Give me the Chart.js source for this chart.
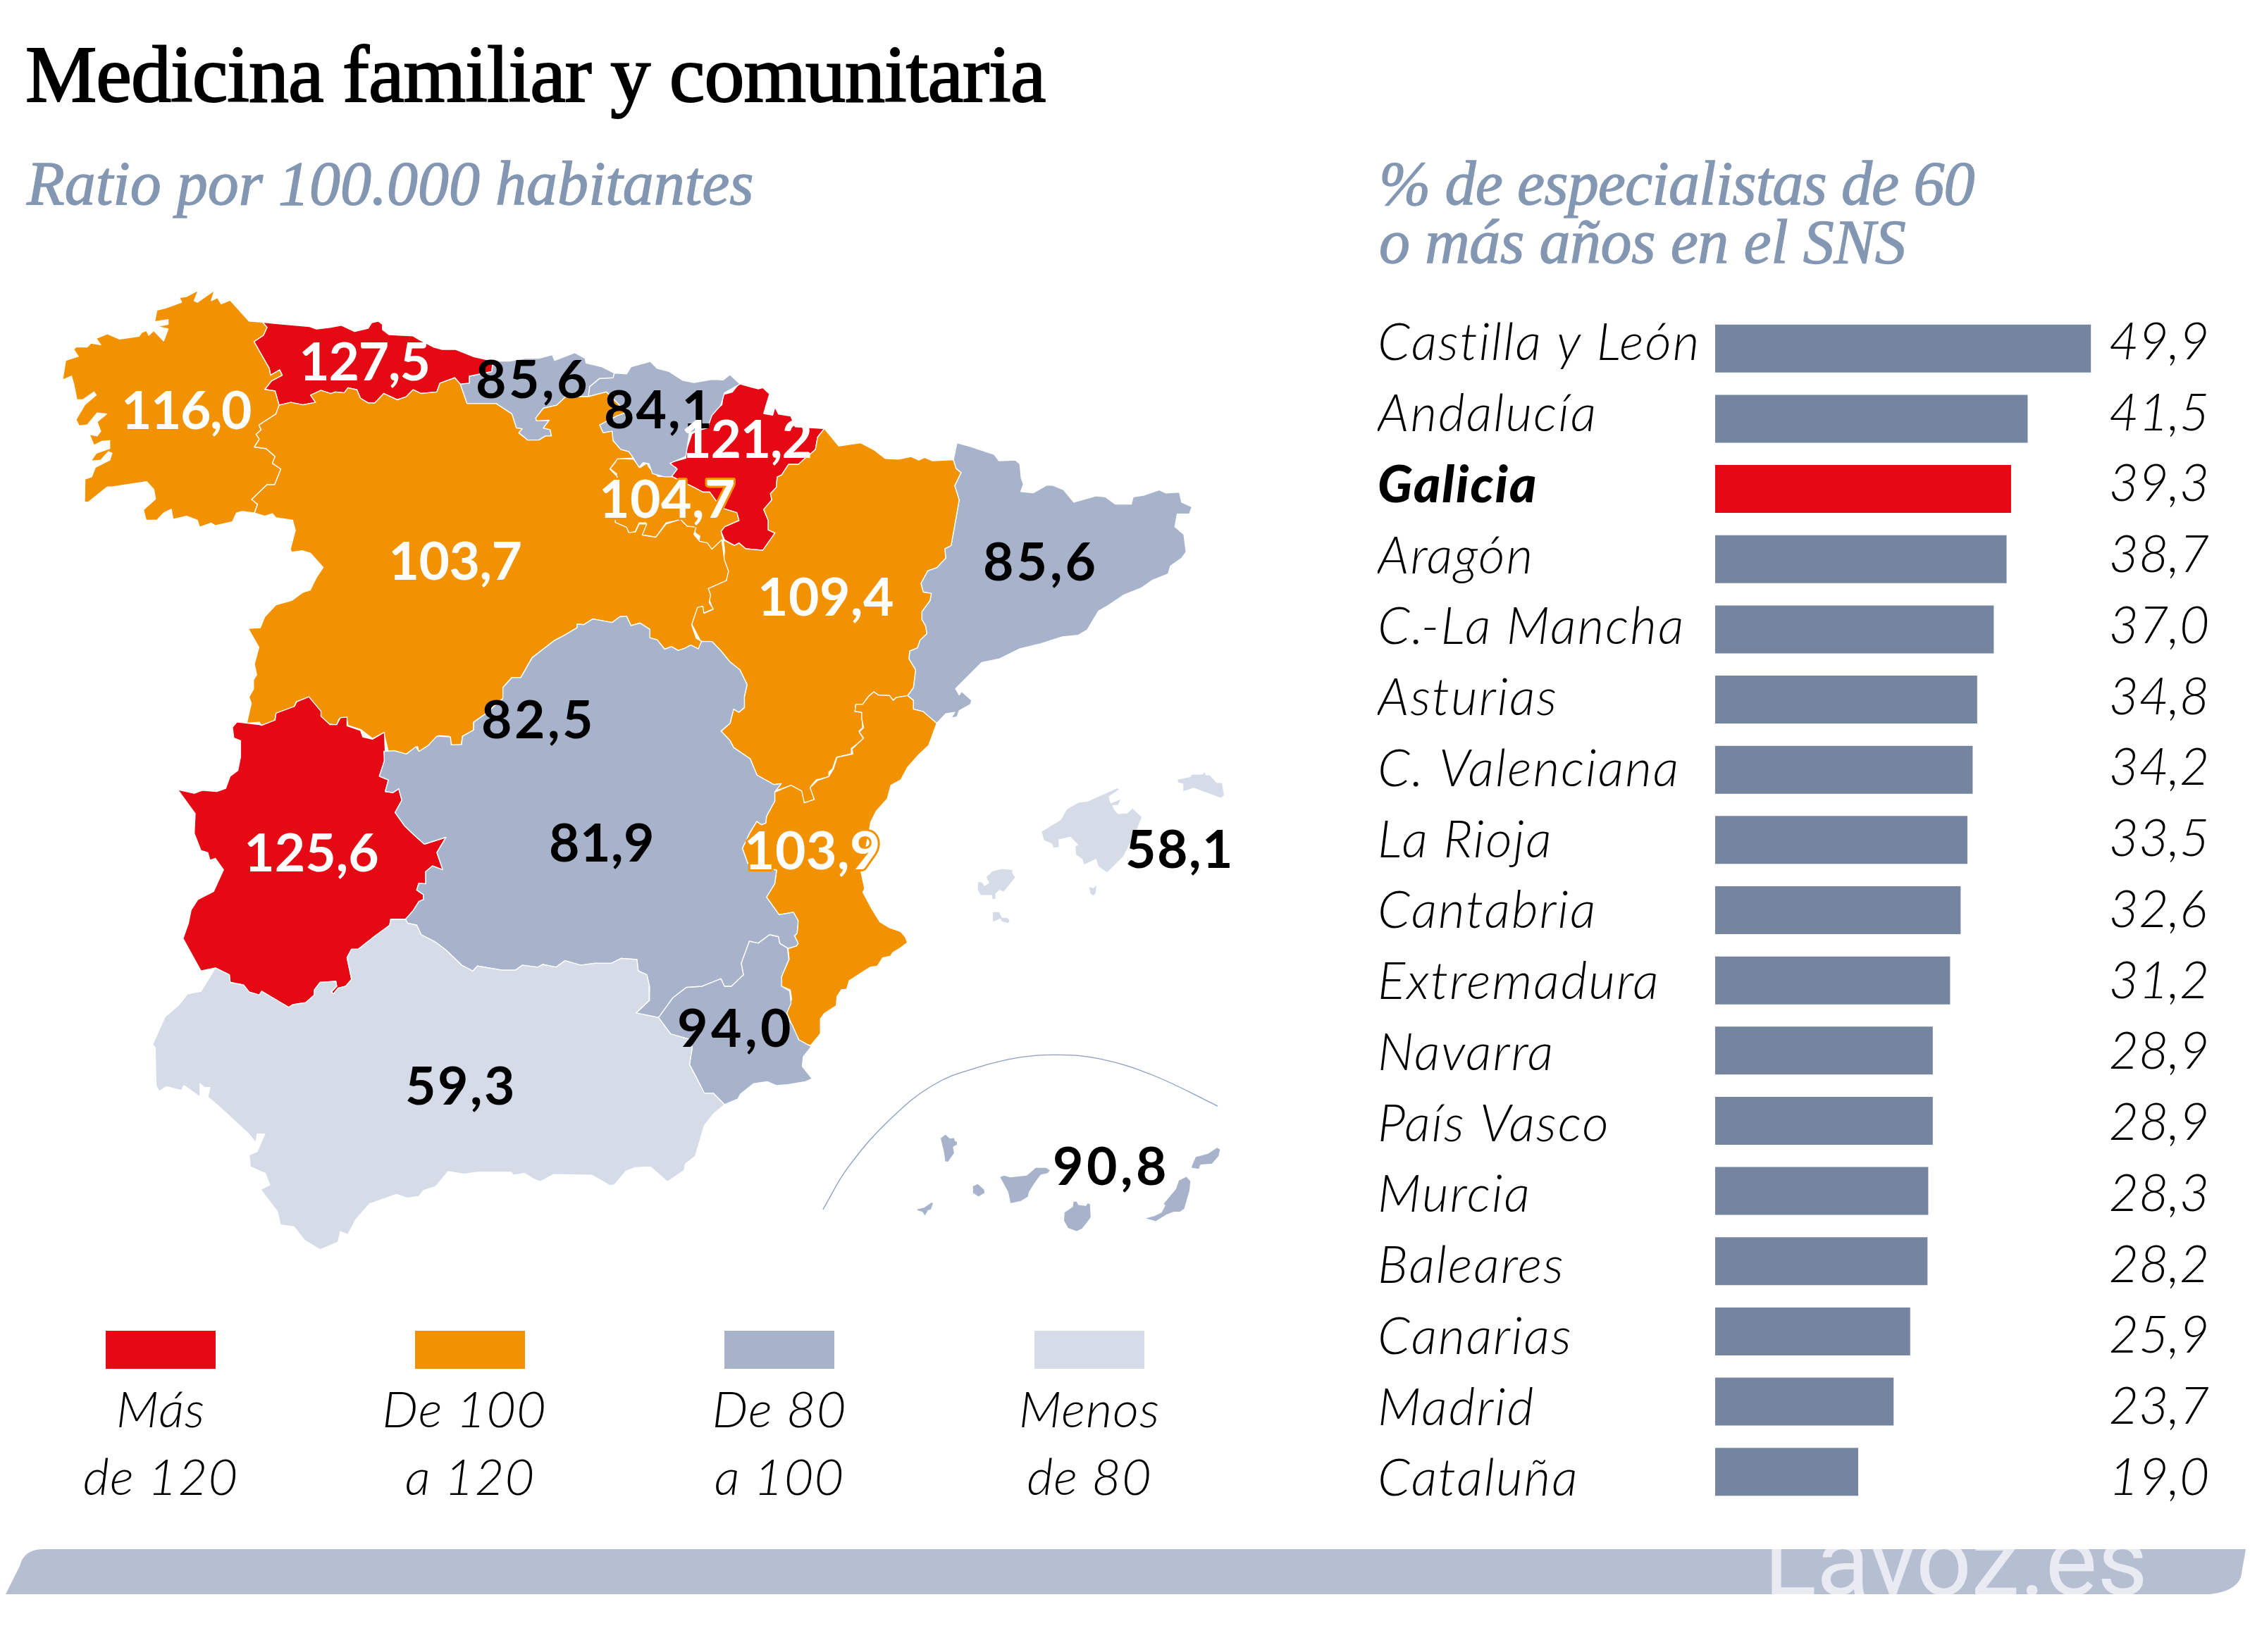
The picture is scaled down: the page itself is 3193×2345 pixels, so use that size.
<!DOCTYPE html>
<html lang="es">
<head>
<meta charset="utf-8">
<title>Medicina familiar y comunitaria</title>
<script src="https://cdn.jsdelivr.net/npm/chart.js@4/dist/chart.umd.min.js"></script>
<style>
html,body{margin:0;padding:0;background:#fff}
#page{position:relative;width:3193px;height:2345px;overflow:hidden;background:#fff}
canvas{position:absolute;display:block}
.t{position:absolute;white-space:nowrap;margin:0;line-height:1}
#title{left:36px;top:40px;font:400 114px "Liberation Serif",serif;color:#000;letter-spacing:-1px;-webkit-text-stroke:2px #000}
.sub{font:italic 400 88px "Liberation Serif",serif;color:#8497b2;-webkit-text-stroke:1.3px #8497b2}
.swatch{position:absolute;width:156px;height:54px;top:1889px}
.leg{font:italic 300 72px "Lato",sans-serif;color:#000;letter-spacing:1px;transform:translateX(-50%)}
#band{position:absolute;left:0;top:2199px;width:3193px;height:64px;background:#b6bfd2;overflow:hidden;
 clip-path:path('M8 64 L28 24 Q34 0 61 0 L3187 0 L3180 40 Q3172 60 3136 64 Z')}
#brand{position:absolute;left:2503px;top:-52px;font:400 139px/1 "Roboto",sans-serif;color:#e8ebf2;white-space:nowrap}
</style>
</head>
<body>
<div id="page">
 <canvas id="map" width="1950" height="2345" style="left:0;top:0;width:1950px;height:2345px"></canvas>
 <canvas id="bars" width="1227" height="1694" style="left:1955px;top:445px;width:1227px;height:1694px"></canvas>
 <h1 class="t" id="title">Medicina familiar y comunitaria</h1>
 <div class="t sub" style="left:38px;top:210px">Ratio por 100.000 habitantes</div>
 <div class="t sub" style="left:1957px;top:210px;letter-spacing:-.85px">% de especialistas de 60</div>
 <div class="t sub" style="left:1957px;top:293px;letter-spacing:-.4px">o más años en el SNS</div>
 <div id="legend"></div>
 <div id="band"><div id="brand">Lavoz.es</div></div>
</div>
<script>
// ---------- bar chart data ----------
const barCategories = ["Castilla y León","Andalucía","Galicia","Aragón","C.-La Mancha","Asturias","C. Valenciana","La Rioja","Cantabria","Extremadura","Navarra","País Vasco","Murcia","Baleares","Canarias","Madrid","Cataluña"];
const barValues = [49.9,41.5,39.3,38.7,37.0,34.8,34.2,33.5,32.6,31.2,28.9,28.9,28.3,28.2,25.9,23.7,19.0];
const highlightCategory = "Galicia";

// ---------- map label data ----------
const regionNames = ["Galicia","Asturias","Cantabria","País Vasco","Navarra","La Rioja","Castilla y León","Aragón","Cataluña","Madrid","C.-La Mancha","Extremadura","C. Valenciana","Baleares","Murcia","Andalucía","Canarias"];
const regionRatios = [116.0,127.5,85.6,84.1,121.2,104.7,103.7,109.4,85.6,82.5,81.9,125.6,103.9,58.1,94.0,59.3,90.8];
const regionLabelX = [264,517,756,935,1059,947,646,1172,1477,764,854,442,1153,1674,1044,654,1577];
const regionLabelY = [609,540,565,608,650,735,823,874,824,1048,1223,1237,1234,1232,1486,1568,1682];
const regionLabelTracking = [-1.5,-1.2,3.5,2,-1.2,.5,-.5,.5,4,3.5,.5,0,.5,1.5,4.5,2.5,4.5];

// ---------- legend ----------
const legendLimits = [[120,Infinity],[100,120],[80,100],[0,80]];
const legendColors = ["#e50914","#f39200","#a6b3ca","#d5dce8"];
const legendLine1 = ["Más","De 100","De 80","Menos"];
const legendLine2 = ["de 120","a 120","a 100","de 80"];

const A=[60,380,1/1.568,700/1568], B=[180,950,1/1.568,850/1568], C=[1000,1020,800/1568,750/1568], D=[800,520,1/1.568,700/1568];
function path(...parts){const out=[];for(let p=0;p<parts.length;p+=2){const v=parts[p],f=parts[p+1];for(let i=0;i<f.length;i+=2)out.push({x:v[0]+f[i]*v[2],y:v[1]+f[i+1]*v[3]});}return out;}

const galicia=path(A,[347,72,338,105,345,110,383,72,376,105,390,95,398,115,418,103,460,170,490,173,500,190,492,215,471,235,505,320,508,342,528,325,534,342,510,360,495,387,518,392,527,437,520,465,482,500,487,515,476,530,483,545,472,570,498,575,518,600,512,622,531,640,517,690,500,690,466,737,479,752,472,780,445,775,432,780,423,808,385,820,376,812,350,825,345,803,321,790,291,800,287,768,270,780,255,803,231,803,225,770,252,735,248,705,232,680,155,697,145,697,103,745,94,745,95,672,110,665,118,635,150,612,155,590,147,585,130,612,108,615,120,590,150,575,150,550,133,552,115,565,105,530,122,535,130,520,122,490,143,465,122,462,100,500,82,503,75,483,95,435,120,405,115,395,90,420,77,420,70,370,65,345,45,357,52,295,80,282,70,260,75,252,100,252,108,240,130,245,120,225,145,210,172,227,215,218,222,205,232,200,237,215,248,200,270,233,280,195,255,187,280,180,280,165,250,172,255,135,275,128,310,110,305,95,320,92,347,72]);
const asturias=path(A,[516,177,595,187,610,195,640,190,665,183,695,203,725,193,733,175,748,170,757,180,757,197,772,213,825,217,840,230,870,252,890,260,920,260,960,283,1003,297,1000,330,950,345,950,367,930,370,918,350,885,367,878,395,843,400,825,388,810,410,790,420,760,400,740,430,725,430,708,415,700,388,680,382,672,398,652,395,642,400,620,390,597,405,608,428,580,436,553,428,527,437,518,392,495,387,510,360,534,342,528,325,508,342,505,320,471,235,492,215,500,190,490,173,516,177]);
const cantabria=path(A,[1003,297,1040,297,1075,288,1105,288,1135,277,1140,295,1185,270,1208,288,1210,303,1245,315,1273,335,1270,350,1240,352,1218,378,1215,410,1165,410,1145,437,1115,447,1098,478,1100,487,1128,485,1115,510,1130,515,1133,535,1120,535,1105,548,1080,548,1060,525,1068,512,1055,510,1045,465,1010,432,945,432,930,370,950,367,950,345,1000,330,1003,297]);
const paisVasco=path(A,[1273,335,1300,338,1310,315,1353,298,1368,320,1395,330,1425,358,1450,365,1490,355,1515,357,1530,340,1553,370,1518,398,1510,437,1490,470,1480,510,1440,525,1432,600,1397,622,1413,640,1400,665,1385,665,1358,655,1350,623,1337,620,1328,635,1315,605,1305,585,1287,578,1270,550,1268,520,1248,525,1240,500,1280,470,1300,460,1255,395,1215,410,1218,378,1240,352,1270,350,1273,335]);
const navarra=path(D,[390,55,415,65,433,72,443,68,458,88,450,125,445,150,465,155,470,130,478,152,505,158,515,192,580,198,565,225,560,265,535,295,522,312,500,312,485,345,475,352,473,385,460,405,463,425,445,455,455,490,455,520,470,530,443,585,405,580,390,562,380,570,358,552,350,525,358,510,390,490,385,465,350,450,325,400,310,400,290,385,240,350,250,322,235,313,240,305,272,292,272,270,285,215,318,185,330,150,352,122,355,90,375,82,390,55]);
const rioja=path(D,[155,295,118,293,115,305,103,325,118,342,115,355,118,370,115,430,112,490,120,505,138,512,145,530,158,528,168,498,183,498,172,535,205,543,228,497,255,490,272,510,290,510,293,530,303,540,300,558,312,560,330,583,355,552,350,525,358,510,390,490,385,465,350,450,325,400,310,400,290,385,240,350,210,350,190,322,185,308,170,322,155,295]);
const castillaLeon=path(A,[527,437,553,428,580,436,608,428,597,405,620,390,642,400,652,395,672,398,680,382,700,388,708,415,725,430,740,430,760,400,790,420,810,410,825,388,843,400,878,395,885,367,918,350,930,370,945,432,1010,432,1045,465,1055,510,1068,512,1060,525,1080,548,1105,548,1120,535,1133,535,1130,515,1115,510,1128,485,1100,487,1098,478,1115,447,1145,437,1165,410,1215,410,1255,395,1300,460,1280,470,1240,500,1248,525,1268,520,1270,550,1287,578,1305,585,1315,605,1280,608,1263,640,1280,665,1270,680,1275,690,1275,810,1300,825,1305,842,1320,840,1328,815,1345,815,1335,850,1365,857,1388,815,1420,800,1435,822,1455,825,1450,848,1463,870,1480,875,1490,895,1512,865,1518,930,1527,965,1522,995,1482,1020,1487,1040,1484,1065,1493,1085,1472,1098,1470,1077,1458,1080,1445,1135,1455,1178,1467,1188,1460,1212,1443,1200,1430,1210,1415,1217,1400,1205,1385,1213,1368,1183,1352,1177,1352,1150,1330,1130,1310,1138,1300,1108,1285,1110,1268,1128,1225,1117,1205,1135,1190,1133,1190,1145,1160,1170,1140,1185,1090,1240,1065,1303,1045,1303,1025,1335,1025,1370,985,1420,960,1445,960,1470,935,1490,932,1518,912,1520,905,1490,882,1488,860,1520,838,1540,835,1522,808,1548,770,1538,760,1478,735,1497,708,1468,680,1455,677,1430,660,1435,655,1455,637,1450,617,1425,617,1410,593,1365,565,1380,560,1398,520,1420,517,1440,487,1455,483,1445,455,1448,465,1385,460,1365,470,1340,470,1310,477,1295,472,1260,482,1207,458,1147,485,1145,495,1110,520,1072,555,1058,580,1032,596,1025,610,985,625,953,597,908,578,900,555,905,552,895,563,835,557,803,520,795,512,782,495,790,472,780,479,752,466,737,500,690,517,690,531,640,512,622,518,600,498,575,472,570,483,545,476,530,487,515,482,500,520,465,527,437]);
const aragon=path(D,[580,198,612,253,660,243,690,265,715,293,745,295,773,287,790,298,803,290,820,300,867,297,873,325,884,338,870,380,880,425,862,570,848,580,850,610,830,640,810,650,795,690,800,718,818,722,815,745,797,780,797,805,805,825,808,850,793,870,787,895,770,905,768,930,783,965,778,1022,765,1047,740,1053,733,1062,725,1047,700,1045,690,1035,678,1050,665,1075,650,1075,648,1097,663,1100,665,1150,657,1160,667,1185,640,1215,640,1232,607,1243,598,1280,590,1290,590,1305,562,1315,550,1335,557,1378,535,1388,527,1350,505,1333,470,1350,484,1327,468,1330,430,1300,415,1248,378,1212,370,1190,350,1160,370,1135,378,1090,390,1100,402,1085,402,1050,408,1012,392,965,370,940,350,905,330,875,305,875,285,820,297,765,310,763,313,785,332,773,322,735,320,705,362,680,365,650,355,630,358,585,355,552,380,570,390,562,405,580,443,585,470,530,455,520,455,490,445,455,463,425,460,405,473,385,475,352,485,345,500,312,522,312,535,295,560,265,565,225,580,198]);
const cataluna=path(D,[875,243,905,255,958,280,968,300,1005,298,1015,310,1018,355,1023,375,1017,398,1045,402,1075,378,1088,378,1112,392,1135,432,1185,412,1205,415,1227,438,1263,438,1267,415,1290,410,1325,393,1340,403,1370,400,1375,432,1398,447,1392,470,1365,470,1360,510,1380,535,1385,590,1375,610,1350,635,1345,660,1310,680,1285,705,1245,728,1210,762,1190,778,1165,838,1145,855,1110,860,1062,882,1015,898,970,930,930,942,872,1025,880,1045,885,1033,908,1062,905,1075,880,1095,875,1115,862,1118,870,1100,850,1105,830,1135,800,1098,778,1090,778,1062,765,1047,778,1022,783,965,768,930,770,905,787,895,793,870,808,850,805,825,797,805,797,780,815,745,818,722,800,718,795,690,810,650,830,640,850,610,848,580,862,570,880,425,870,380,884,338,873,325,867,297,875,243]);
const laMancha=path(
 A,[1160,1170,1190,1145,1190,1133,1205,1135,1225,1117,1268,1128,1285,1110,1300,1108,1310,1138,1330,1130,1352,1150,1352,1177,1368,1183,1385,1213,1400,1205,1415,1217,1430,1210,1443,1200,1460,1212,1467,1188],
 D,[330,875,350,905,370,940,392,965,408,1012,402,1050,402,1085,390,1100,378,1090,370,1135,350,1160,370,1190,378,1212,415,1248,430,1300,468,1330,484,1327],
 C,[195,218,195,245,172,290,170,310,158,315,145,305,125,340,105,385,120,430,200,450,195,490,172,530,207,582,247,575,260,600,257,637,250,645,260,667,255,675,232,682],
 B,[1453,718,1450,700,1430,695,1405,717,1385,712,1367,770,1372,800,1345,830,1330,830,1322,810,1280,830,1245,833,1215,860,1183,912,1133,900,1162,868,1163,830,1157,800,1138,790,1135,760,1100,757,1078,770,1050,770,1040,770,1010,775,975,763,955,780,925,773,915,780,880,775,865,788,835,788,780,777,770,790,745,775,710,735,685,713,655,695,645,670,625,665,620,655,637,632,650,608,660,603,660,590,645,578,650,560,665,562,665,530,680,515,703,525,690,480,710,440,662,458,640,435,618,410,597,375,612,343,605,313,592,323,575,320,582,290,562,280,573,240,572,215,595,213,622,222,643,203,650,215,670,200,690,175,720,177,722,198,745,197],
 A,[935,1490,960,1470,960,1445,985,1420,1025,1370,1025,1335,1045,1303,1065,1303,1090,1240,1140,1185,1160,1170]);
const madrid=path(
 A,[1160,1170,1175,1190,1185,1225,1165,1300],
 B,[985,0,975,25,988,45,985,70,1005,72,1010,95,1030,105,1040,145,1035,195,1050,195,1055,228,1063,230,1052,240,1057,258,1030,267,1005,262,992,258,965,268,940,285,920,300,905,310,890,302,895,290,920,270,940,245,930,233,915,235,895,222,868,207,855,193,840,190,825,185,800,195,790,172,775,185,745,197],
 A,[935,1490,960,1470,960,1445,985,1420,1025,1370,1025,1335,1045,1303,1065,1303,1090,1240,1140,1185,1160,1170]);
const extremadura=path(B,[405,72,432,110,432,123,452,145,467,145,475,127,490,125,490,148,520,160,525,177,547,183,573,165,575,215,573,240,562,280,582,290,575,320,592,323,605,313,612,343,597,375,618,410,640,435,662,458,710,440,690,480,703,525,680,515,665,530,665,562,650,560,645,578,660,590,660,603,650,608,637,632,620,655,587,655,585,670,545,705,515,733,500,733,490,755,500,812,487,830,470,835,460,850,455,845,467,830,465,817,430,820,417,840,417,853,398,873,370,878,360,885,300,843,295,853,272,845,260,827,230,820,228,800,197,782,165,790,125,705,137,665,143,630,158,603,193,582,215,525,197,495,185,500,180,480,165,475,150,430,152,378,113,315,150,325,168,317,200,320,220,312,230,280,247,265,253,230,253,187,238,180,235,152,245,138,295,145,300,147,330,133,332,115,373,97,378,85,405,72]);
const andalucia=path(B,[197,782,228,800,230,820,260,827,272,845,295,853,300,843,360,885,370,878,398,873,417,853,417,840,430,820,465,817,467,830,455,845,460,850,470,835,487,830,500,812,490,755,500,733,515,733,545,705,585,670,587,655,620,655,625,665,645,670,655,695,685,713,710,735,745,775,770,790,780,777,835,788,865,788,880,775,915,780,925,773,955,780,975,763,1010,775,1040,770,1050,770,1078,770,1100,757,1135,760,1138,790,1157,800,1163,830,1162,868,1133,900,1183,912,1210,955,1255,970,1258,990,1252,1035,1270,1075,1285,1110,1305,1110,1330,1140,1305,1165,1285,1195,1275,1235,1265,1275,1243,1295,1240,1312,1203,1342,1165,1303,1130,1305,1110,1315,1085,1350,1075,1352,1035,1325,950,1323,920,1342,905,1335,885,1320,860,1325,855,1317,780,1317,750,1322,715,1315,687,1355,660,1365,650,1380,625,1385,600,1375,540,1400,510,1440,492,1480,475,1473,470,1500,430,1520,395,1495,372,1460,342,1455,335,1420,312,1385,298,1362,318,1350,308,1320,275,1303,272,1272,290,1263,307,1217,290,1217,287,1240,270,1215,210,1150,180,1120,185,1095,172,1095,163,1085,163,1120,127,1090,122,1103,88,1093,72,1105,65,1090,63,990,57,983,85,910,115,880,135,850,165,843,197,782]);
const murcia=path(B,[1183,912,1215,860,1245,833,1280,830,1322,810,1330,830,1345,830,1372,800,1367,770,1385,712,1405,717,1430,695,1450,700,1453,718,1470,730,1473,760,1457,805,1457,830,1475,843,1478,875,1465,910,1480,930,1495,970,1523,988,1505,1015,1503,1040,1525,1072,1510,1080,1470,1088,1445,1090,1425,1080,1395,1085,1365,1113,1360,1125,1330,1140,1305,1110,1285,1110,1270,1075,1252,1035,1258,990,1255,970,1210,955,1183,912]);
const valencia=path(
 D,[830,1135,812,1205,790,1235,765,1275,750,1315,728,1332,720,1375,695,1415,683,1450,680,1475],
 C,[458,330,435,455,445,505,440,515,465,565,487,603,513,620,545,632,558,648,564,665,545,680,523,695,517,705,495,710,480,735,460,738,440,752,402,778,395,803,380,805,368,825,366,852,333,875,323,890,322,935,295,970,267,963,253,935,228,872,242,833,238,805,212,793,213,767,235,715,232,682,255,675,260,667,250,645,257,637,260,600,247,575,207,582,172,530,195,490,200,450,120,430,105,385,125,340,145,305,158,315,170,310,172,290,195,245,195,218,240,198,270,215,277,250,305,240,293,205,315,183,345,172,358,150,368,115,412,105,410,90,442,58,430,40,442,27,437,0],
 D,[663,1100,648,1097,650,1075,665,1075,678,1050,690,1035,700,1045,725,1047,733,1062,740,1053,765,1047,778,1062,778,1090,800,1098,830,1135]);
const mallorca=path(C,[936,335,990,300,1007,268,1040,248,1065,245,1148,205,1155,210,1125,232,1130,250,1160,237,1150,258,1135,258,1140,270,1150,282,1175,280,1190,265,1217,292,1195,350,1165,410,1120,458,1095,440,1088,418,1055,435,1050,418,1032,405,1030,378,1038,375,1017,352,985,360,987,382,970,385,965,372,943,362,936,335]);
const menorca=path(C,[1315,180,1350,172,1355,165,1385,165,1390,155,1395,167,1405,167,1425,190,1440,190,1446,228,1437,237,1360,207,1330,217,1330,195,1315,190,1315,180]);
const ibiza=path(C,[760,483,772,485,778,495,790,488,782,470,800,452,825,445,857,448,857,458,865,472,832,515,820,510,810,520,810,535,800,538,798,525,767,525,758,507,760,483]);
const formentera=path(C,[800,573,820,573,828,590,843,590,850,600,845,608,825,603,822,595,800,605,800,573]);
const cabrera=path(C,[1068,497,1080,502,1092,492,1088,520,1080,527,1072,520,1068,497]);
const laPalma=path(C,[655,1245,670,1233,682,1245,695,1243,697,1253,703,1255,703,1265,692,1272,695,1290,677,1317,668,1315,665,1290,655,1245]);
const elHierro=path(C,[590,1455,610,1450,630,1435,637,1437,630,1458,622,1460,613,1478,605,1465,590,1460,590,1455]);
const gomera=path(C,[745,1387,760,1380,778,1397,780,1408,762,1420,745,1408,745,1387]);
const tenerife=path(C,[820,1360,833,1355,850,1360,895,1355,920,1332,950,1332,962,1340,955,1350,935,1355,918,1380,903,1405,900,1420,880,1433,850,1440,843,1405,820,1360]);
const granCanaria=path(C,[1000,1465,1023,1448,1025,1432,1035,1432,1040,1442,1060,1445,1065,1437,1073,1440,1075,1480,1065,1495,1050,1515,1035,1523,1010,1513,998,1490,1000,1465]);
const fuerteventura=path(C,[1222,1483,1250,1475,1270,1465,1280,1445,1275,1440,1310,1395,1318,1370,1340,1358,1352,1372,1350,1400,1335,1455,1322,1465,1305,1465,1285,1473,1255,1493,1222,1483]);
const lanzarote=path(C,[1353,1330,1365,1300,1400,1290,1425,1272,1435,1278,1430,1300,1412,1322,1380,1325,1375,1338,1355,1335,1353,1330]);
const canaryArc=path(C,[329,1457,400,1330,520,1185,640,1085,760,1035,880,1005,980,998,1100,1010,1250,1060,1427,1150]);

const regionShapes = [
 ["Baleares",[mallorca,menorca,ibiza,formentera,cabrera]],
 ["Canarias",[laPalma,elHierro,gomera,tenerife,granCanaria,fuerteventura,lanzarote]],
 ["Andalucía",[andalucia]],["C.-La Mancha",[laMancha]],["Madrid",[madrid]],["Murcia",[murcia]],["C. Valenciana",[valencia]],["Extremadura",[extremadura]],
 ["Castilla y León",[castillaLeon]],["Galicia",[galicia]],["Asturias",[asturias]],["Cantabria",[cantabria]],["País Vasco",[paisVasco]],["La Rioja",[rioja]],["Aragón",[aragon]],["Cataluña",[cataluna]],["Navarra",[navarra]]
];

const es = v => v.toFixed(1).replace('.',',');
function classColor(v){for(let i=0;i<legendLimits.length;i++)if(v>=legendLimits[i][0]&&v<legendLimits[i][1])return legendColors[i];return legendColors[3];}

// ---------- map ----------
const mapDatasets=[];
for(const [name,parts] of regionShapes){
 const color=classColor(regionRatios[regionNames.indexOf(name)]);
 for(const pts of parts){
  mapDatasets.push({label:name,data:pts,showLine:true,fill:'shape',tension:0,pointRadius:0,borderWidth:1.4,borderColor:'#ffffff',backgroundColor:color,borderJoinStyle:'round',clip:false});
 }
}
mapDatasets.push({label:'Canarias arco',data:canaryArc,showLine:true,fill:false,tension:.4,pointRadius:0,borderWidth:1.3,borderColor:'#8c9cc2',clip:false});

const outlinedLabels=["La Rioja","C. Valenciana"];
const mapLabelPlugin={id:'mapLabels',afterDatasetsDraw(chart){
 const c=chart.ctx,xs=chart.scales.x,ys=chart.scales.y;
 c.save();
 c.font='700 75px "Lato",sans-serif';
 c.textAlign='center';c.textBaseline='alphabetic';c.lineJoin='round';
 regionNames.forEach((n,i)=>{
  const col=classColor(regionRatios[i]);
  const white=col===legendColors[0]||col===legendColors[1];
  const px=xs.getPixelForValue(regionLabelX[i]),py=ys.getPixelForValue(regionLabelY[i]);
  const s=es(regionRatios[i]);
  c.letterSpacing=regionLabelTracking[i]+'px';
  if(outlinedLabels.includes(n)){c.strokeStyle=col;c.lineWidth=6;c.strokeText(s,px,py);}
  c.fillStyle=white?'#fff':'#000';
  c.fillText(s,px,py);
 });
 c.restore();
}};
new Chart(document.getElementById('map'),{
 type:'scatter',
 data:{datasets:mapDatasets},
 options:{responsive:false,animation:false,layout:{padding:0},
  plugins:{legend:{display:false},tooltip:{enabled:false},title:{display:false}},
  scales:{x:{type:'linear',display:false,min:0,max:1950},y:{type:'linear',display:false,min:0,max:2345,reverse:true}}},
 plugins:[mapLabelPlugin]
});

// ---------- bars ----------
// the text rows of the reference run at a slightly larger pitch than its bars
const rowDrift = 1.1;
const valueColumn = 52.3;
const barValuePlugin={id:'barValues',
 beforeDraw(chart){chart.ctx.letterSpacing='2px';},
 afterDatasetsDraw(chart){
 const c=chart.ctx,meta=chart.getDatasetMeta(0);
 c.save();
 c.letterSpacing='0px';
 c.font='italic 300 73px "Lato",sans-serif';
 c.fillStyle='#000';c.textAlign='left';c.textBaseline='alphabetic';
 const x=chart.scales.x.getPixelForValue(valueColumn);
 barValues.forEach((v,i)=>c.fillText(es(v),x,meta.data[i].y+15+rowDrift*i));
 c.restore();
}};
new Chart(document.getElementById('bars'),{
 type:'bar',
 data:{labels:barCategories,datasets:[{data:barValues,
  backgroundColor:barCategories.map(n=>n===highlightCategory?legendColors[0]:'#75859f'),
  barPercentage:68/99.65,categoryPercentage:1,borderWidth:0}]},
 options:{indexAxis:'y',responsive:false,animation:false,layout:{padding:0},
  plugins:{legend:{display:false},tooltip:{enabled:false}},
  scales:{
   x:{type:'linear',display:false,min:0,max:70},
   y:{type:'category',position:'left',
      afterFit(s){
       s.width=479;s.paddingTop=0;s.paddingBottom=0;
       const base=Object.getPrototypeOf(s).getPixelForTick;
       s.getPixelForTick=function(i){return base.call(this,i)-7+rowDrift*i;};
      },
      grid:{display:false,drawBorder:false},border:{display:false},
      ticks:{crossAlign:'far',padding:0,color:'#000',autoSkip:false,
       font:ctx=>barCategories[ctx.index]===highlightCategory
        ?{family:'Lato',size:73,style:'italic',weight:'900'}
        :{family:'Lato',size:73,style:'italic',weight:'300'}}}
  }},
 plugins:[barValuePlugin]
});

// ---------- legend ----------
const leg=document.getElementById('legend');
const swatchX=[150,589,1028,1468], textX1=[228,659,1106,1546], textX2=[228,667,1106,1546];
legendColors.forEach((col,i)=>{
 const s=document.createElement('div');s.className='swatch';s.style.left=swatchX[i]+'px';s.style.background=col;leg.appendChild(s);
 [[legendLine1[i],textX1[i],1955],[legendLine2[i],textX2[i],2051]].forEach(([txt,x,y])=>{
  const d=document.createElement('div');d.className='t leg';d.textContent=txt;d.style.left=x+'px';d.style.top=y+'px';leg.appendChild(d);
 });
});
</script>
</body>
</html>
